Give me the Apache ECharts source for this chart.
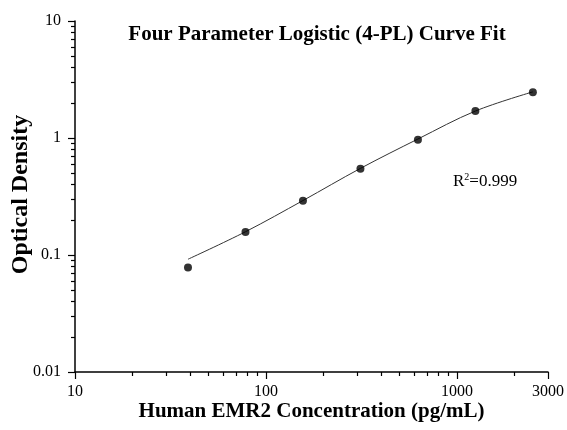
<!DOCTYPE html>
<html>
<head>
<meta charset="utf-8">
<script src="https://cdn.jsdelivr.net/npm/echarts@6/dist/echarts.min.js"></script>
<style>
    html, body { margin: 0; padding: 0; background: #fff; }
    #chart { width: 567px; height: 430px; }
</style>
</head>
<body>
<div id="chart"></div>
<script>
// standards: concentration (pg/mL) and measured OD
const conc = [39.06, 78.13, 156.25, 312.5, 625, 1250, 2500];
const od = [0.078, 0.157, 0.291, 0.547, 0.966, 1.70, 2.46];
// fitted 4-PL curve
const fitConc = [39.06, 78.13, 156.25, 312.5, 625, 1250, 2500];
const fitOd = [0.092, 0.158, 0.292, 0.55, 0.98, 1.70, 2.48];

const xMajor = [10, 100, 1000, 3000];
const xMinor = [20, 30, 40, 50, 60, 70, 80, 90, 200, 300, 400, 500, 600, 700, 800, 900, 2000];
const yMajor = [0.01, 0.1, 1, 10];
const yMinor = [0.02, 0.03, 0.04, 0.05, 0.06, 0.07, 0.08, 0.09,
    0.2, 0.3, 0.4, 0.5, 0.6, 0.7, 0.8, 0.9,
    2, 3, 4, 5, 6, 7, 8, 9];

const font = 'Liberation Serif';
const chart = echarts.init(document.getElementById('chart'));

/* 轴的公共样式 */
function axisBase (min, max) {
    return {
        type: 'log',
        logBase: 10,
        min: min,
        max: max,
        splitLine: { show: false },
        axisLine: { lineStyle: { color: '#000', width: 1.5 } }
    }
}

chart.setOption({
    animation: false,
    title: {
        text: 'Four Parameter Logistic (4-PL) Curve Fit',
        left: 312,
        textAlign: 'center',
        top: 19,
        textStyle: { fontFamily: font, fontSize: 21, fontWeight: 'bold', color: '#000' }
    },
    grid: { left: 75, right: 19, top: 21, bottom: 58, outerBoundsMode: 'none', containLabel: false },
    xAxis: [
        Object.assign(axisBase(10, 3000), {
            name: 'Human EMR2 Concentration (pg/mL)',
            nameLocation: 'middle',
            nameGap: 29,
            nameMoveOverlap: false,
            nameTextStyle: { fontFamily: font, fontSize: 21, fontWeight: 'bold', color: '#000' },
            axisTick: { customValues: xMajor, length: 7, lineStyle: { color: '#000', width: 1.2 } },
            axisLabel: {
                customValues: xMajor, margin: 12,
                fontFamily: font, fontSize: 16, color: '#000',
                formatter: (v) => String(Math.round(v))
            }
        }),
        Object.assign(axisBase(10, 3000), {
            position: 'bottom',
            axisLine: { show: false },
            axisLabel: { show: false },
            axisTick: { customValues: xMinor, length: 4, lineStyle: { color: '#000', width: 1.2 } }
        })
    ],
    yAxis: [
        Object.assign(axisBase(0.01, 10), {
            name: 'Optical Density',
            nameLocation: 'middle',
            nameGap: 42,
            nameMoveOverlap: false,
            nameTextStyle: { fontFamily: font, fontSize: 24, fontWeight: 'bold', color: '#000', padding: [0, 0, 0, 4] },
            axisTick: { customValues: yMajor, length: 7, lineStyle: { color: '#000', width: 1.2 } },
            axisLabel: {
                customValues: yMajor, margin: 14,
                fontFamily: font, fontSize: 16, color: '#000',
                formatter: (v) => String(+v.toPrecision(2))
            }
        }),
        Object.assign(axisBase(0.01, 10), {
            position: 'left',
            axisLine: { show: false },
            axisLabel: { show: false },
            axisTick: { customValues: yMinor, length: 4, lineStyle: { color: '#000', width: 1.2 } }
        })
    ],
    graphic: [{
        type: 'text',
        left: 453,
        top: 172,
        style: {
            text: '{a|R}{s|2}{a|=0.999}',
            rich: {
                a: { fontFamily: font, fontSize: 17, fill: '#000' },
                s: { fontFamily: font, fontSize: 10, fill: '#000', verticalAlign: 'top', padding: [0, 0, 9, 0] }
            }
        }
    }],
    series: [
        {
            type: 'line',
            data: fitConc.map((x, i) => [x, fitOd[i]]),
            smooth: 0.35,
            showSymbol: false,
            lineStyle: { color: '#333', width: 1 },
            z: 2
        },
        {
            type: 'scatter',
            data: conc.map((x, i) => [x, od[i]]),
            symbolSize: 8,
            itemStyle: { color: '#000' },
            z: 3
        }
    ]
});
</script>
</body>
</html>
